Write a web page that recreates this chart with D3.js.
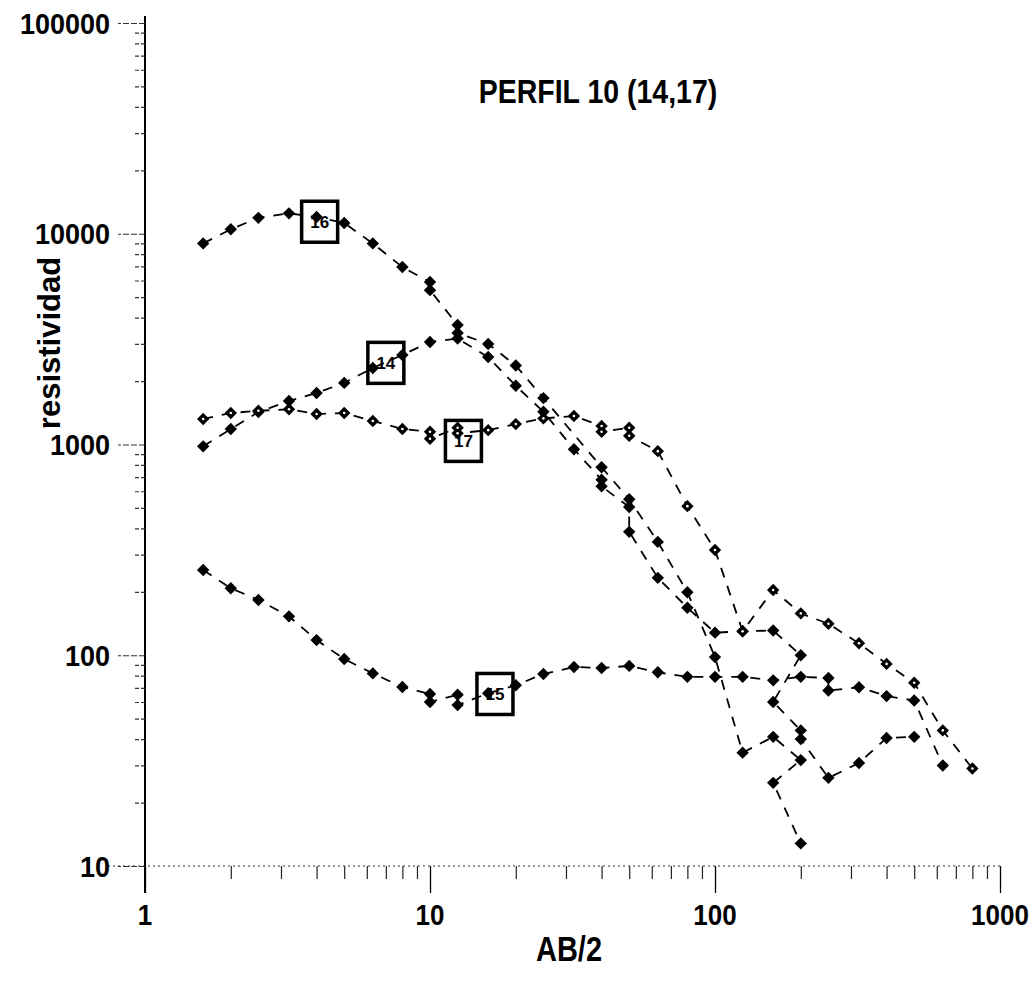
<!DOCTYPE html>
<html><head><meta charset="utf-8">
<script src="https://cdn.jsdelivr.net/npm/d3@7"></script>
<style>body{margin:0;background:#fff}svg text{font-family:"Liberation Sans",Arial,sans-serif;font-weight:bold;fill:#000}</style>
</head><body><svg id="c" width="1033" height="981"></svg>
<script>
const chartTitle = "PERFIL 10 (14,17)";
const xLabel = "AB/2";
const yLabel = "resistividad";
const xTickValues = [1, 10, 100, 1000];
const yTickValues = [10, 100, 1000, 10000, 100000];
const seriesNames = ["16", "14", "17", "15"];

// [AB/2, resistividad]
const s16 = [[1.6,9000],[2,10500],[2.5,11900],[3.2,12500],[4,12000],[5,11250],[6.3,9000],[8,6950],[10,5900],[10,5400],[12.5,3690],[12.5,3380],[16,3000],[20,2370],[25,1660],[40,780],[50,550],[63,345],[80,199],[100,98],[125,34.5],[160,41],[200,31.8],[160,24.8],[200,12.8]];
const s14 = [[1.6,980],[2,1185],[2.5,1426],[3.2,1608],[4,1755],[5,1960],[6.3,2307],[8,2660],[10,3065],[12.5,3180],[16,2600],[20,1900],[25,1430],[32,950],[40,680],[40,633],[50,505],[50,385],[63,233],[80,168],[100,128],[125,130],[160,131],[200,100],[160,60],[200,44],[200,40],[250,26.2],[320,30.8],[400,40.5],[500,41]];
const s17 = [[1.6,1322],[2,1410],[2.5,1445],[3.2,1470],[4,1395],[5,1410],[6.3,1293],[8,1185],[10,1150],[10,1065],[12.5,1200],[12.5,1130],[16,1170],[20,1250],[25,1330],[32,1365],[40,1225],[40,1150],[50,1200],[50,1100],[63,930],[80,510],[100,316],[125,130],[160,204],[200,158],[250,141],[320,114],[400,91],[500,74],[630,44],[800,29]];
const s15 = [[1.6,254],[2,208],[2.5,183],[3.2,153],[4,118],[5,96],[6.3,82],[8,70.7],[10,65.5],[10,60],[12.5,65],[12.5,58],[16,66],[20,72],[25,81.5],[32,88],[40,87],[50,89],[63,83],[80,79],[100,79],[125,79],[160,76],[200,79],[250,78],[250,68],[320,70.5],[400,64],[500,61],[630,30]];
const seriesData = [s16, s14, s17, s15];
const labelPositions = [[4.1,11400],[7.0,2440],[13.1,1040],[16.9,65.5]];

const svg = d3.select("#c");
const x = d3.scaleLog().domain([1, 1000]).range([145, 1000]);
const y = d3.scaleLog().domain([10, 100000]).range([866, 23]);

const xMinor = [], yMinor = [];
for (let e = 0; e < 3; e++) for (let m = 2; m <= 9; m++) xMinor.push(m * Math.pow(10, e));
for (let e = 1; e < 5; e++) for (let m = 2; m <= 9; m++) yMinor.push(m * Math.pow(10, e));

// helper: vertically stretched text (the scanned original is taller than wide)
function stretchedText(px, py, size, sy, anchor, str) {
  return svg.append("text")
    .attr("transform", `translate(${px},${py}) scale(1,${sy})`)
    .attr("text-anchor", anchor).attr("font-size", size).text(str);
}

// X axis: dotted baseline at y=10
svg.append("line").attr("x1", 108).attr("x2", 1000).attr("y1", y(10)).attr("y2", y(10))
  .attr("stroke", "#333").attr("stroke-width", 1).attr("stroke-dasharray", "2,3");
const xAxisG = svg.append("g").attr("transform", `translate(0,${y(10)})`);
xAxisG.call(d3.axisBottom(x).tickValues(xTickValues).tickSize(27).tickFormat(""))
  .call(g => g.select(".domain").remove())
  .call(g => g.selectAll(".tick line").attr("stroke", "#000").attr("stroke-width", 1.3));
xAxisG.append("g").call(d3.axisBottom(x).tickValues(xMinor).tickSize(13).tickFormat(""))
  .call(g => g.select(".domain").remove())
  .call(g => g.selectAll(".tick line").attr("stroke", "#222").attr("stroke-width", 1.2));
xTickValues.forEach(v => stretchedText(x(v), 925, 26, 1.15, "middle", String(v)));

// Y axis
const yAxisG = svg.append("g").attr("transform", `translate(${x(1)},0)`);
yAxisG.append("line").attr("x1", 0).attr("x2", 0).attr("y1", 16).attr("y2", 893)
  .attr("stroke", "#000").attr("stroke-width", 2);
yAxisG.call(d3.axisLeft(y).tickValues(yTickValues).tickSize(27).tickFormat(""))
  .call(g => g.select(".domain").remove())
  .call(g => g.selectAll(".tick line").attr("stroke", "#333").attr("stroke-width", 1.2).attr("stroke-dasharray", "6,2"));
yAxisG.append("g").call(d3.axisLeft(y).tickValues(yMinor).tickSize(12).tickFormat(""))
  .call(g => g.select(".domain").remove())
  .call(g => g.selectAll(".tick line").attr("stroke", "#333").attr("stroke-width", 1.2).attr("stroke-dasharray", "4,2"));
yTickValues.forEach(v => stretchedText(110, y(v) + 10.5, 27, 1.12, "end", String(v)));

// Title & axis labels
stretchedText(598, 103, 28.5, 1.15, "middle", chartTitle);
stretchedText(569, 961, 29, 1.2, "middle", xLabel);
svg.append("text").attr("transform", "translate(60,343) rotate(-90)").attr("text-anchor", "middle")
  .attr("font-size", 31).text(yLabel);

// Series
const line = d3.line().x(d => x(d[0])).y(d => y(d[1]));
const diamond = "M0,-6.2L6.2,0L0,6.2L-6.2,0Z";
seriesData.forEach((s, i) => {
  const g = svg.append("g");
  g.append("path").datum(s).attr("d", line).attr("fill", "none")
    .attr("stroke", "#000").attr("stroke-width", 1.8).attr("stroke-dasharray", "10,9");
  g.selectAll("path.m").data(s).enter().append("path").attr("class", "m")
    .attr("transform", d => `translate(${x(d[0])},${y(d[1])})`).attr("d", diamond).attr("fill", "#000");
  if (i === 2) {
    g.selectAll("circle").data(s).enter().append("circle")
      .attr("cx", d => x(d[0])).attr("cy", d => y(d[1])).attr("r", 1.3).attr("fill", "#fff");
  }
});

// Series label boxes
labelPositions.forEach((p, i) => {
  const cx = x(p[0]), cy = y(p[1]);
  svg.append("rect").attr("x", cx - 18).attr("y", cy - 20.5).attr("width", 36).attr("height", 41)
    .attr("fill", "none").attr("stroke", "#000").attr("stroke-width", 3.5);
  svg.append("text").attr("x", cx).attr("y", cy).attr("dy", "0.36em").attr("text-anchor", "middle")
    .attr("font-size", 17).text(seriesNames[i]);
});
</script></body></html>
